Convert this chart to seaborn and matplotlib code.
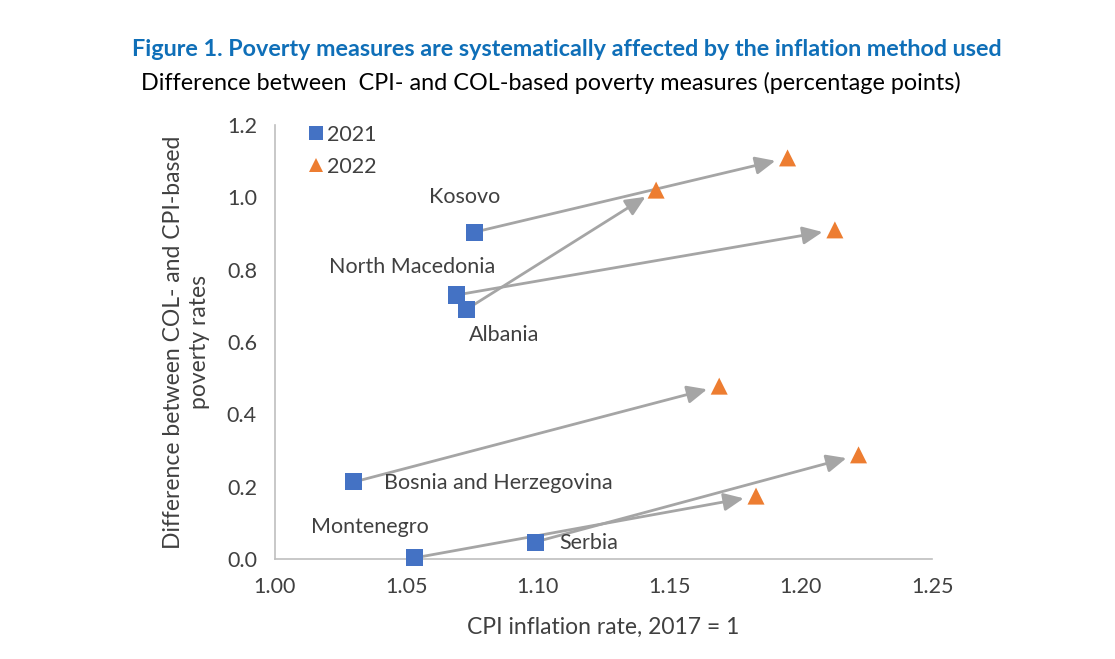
import matplotlib
matplotlib.use("Agg")
import matplotlib.pyplot as plt
import numpy as np
import pandas as pd
import seaborn as sns

# ---------------------------------------------------------------------------
# DATA
# ---------------------------------------------------------------------------
countries = ["Kosovo", "North Macedonia", "Albania",
             "Bosnia and Herzegovina", "Montenegro", "Serbia"]
cpi_2021 = [1.076, 1.069, 1.073, 1.030, 1.053, 1.099]
gap_2021 = [0.904, 0.730, 0.691, 0.213, 0.003, 0.047]
cpi_2022 = [1.195, 1.213, 1.145, 1.169, 1.183, 1.222]
gap_2022 = [1.109, 0.910, 1.020, 0.478, 0.174, 0.288]

years = ["2021", "2022"]

TITLE = "Figure 1. Poverty measures are systematically affected by the inflation method used"
SUBTITLE = "Difference between  CPI- and COL-based poverty measures (percentage points)"
XLABEL = "CPI inflation rate, 2017 = 1"
YLABEL = "Difference between COL- and CPI-based\npoverty rates"

# label placement (offsets in points from the 2021 marker)
LABEL_OFFSETS = {
    "Kosovo": (-7, 25, "center"),
    "North Macedonia": (-32, 20, "center"),
    "Albania": (27, -19, "center"),
    "Bosnia and Herzegovina": (22, -1, "left"),
    "Montenegro": (-32, 22, "center"),
    "Serbia": (17, -1, "left"),
}

BLUE = "#4472C4"
ORANGE = "#ED7D31"
GREY = "#A5A5A5"
TEXT = "#404040"
FS = 15.5

# ---------------------------------------------------------------------------
sns.set_theme(style="white")
plt.rcParams["font.family"] = ["Lato", "DejaVu Sans"]

df = pd.DataFrame({
    "country": countries * 2,
    "cpi": cpi_2021 + cpi_2022,
    "gap": gap_2021 + gap_2022,
    "year": [years[0]] * len(countries) + [years[1]] * len(countries),
})

fig = plt.figure(figsize=(11.15, 6.59), dpi=100)
ax = fig.add_axes([0.2466, 0.1517, 0.5894, 0.6586])

# arrows first so markers sit on top
for x0, y0, x1, y1 in zip(cpi_2021, gap_2021, cpi_2022, gap_2022):
    ax.annotate("", xy=(x1, y1), xytext=(x0, y0),
                arrowprops=dict(arrowstyle="-|>,head_length=1.0,head_width=0.45",
                                color=GREY, lw=2, shrinkA=0, shrinkB=9),
                zorder=1)

sns.scatterplot(data=df, x="cpi", y="gap", hue="year", style="year",
                palette={"2021": BLUE, "2022": ORANGE},
                markers={"2021": "s", "2022": "^"},
                s=150, linewidth=0, ax=ax, zorder=3, clip_on=False)

for name, x, y in zip(countries, cpi_2021, gap_2021):
    dx, dy, ha = LABEL_OFFSETS[name]
    ax.annotate(name, xy=(x, y), xytext=(dx, dy), textcoords="offset points",
                ha=ha, va="center", fontsize=FS, color=TEXT)

ax.set_xlim(1.0, 1.25)
ax.set_ylim(0.0, 1.2)
ax.set_xticks(np.arange(1.0, 1.2501, 0.05))
ax.set_yticks(np.arange(0.0, 1.2001, 0.2))
ax.xaxis.set_major_formatter(matplotlib.ticker.FormatStrFormatter("%.2f"))
ax.yaxis.set_major_formatter(matplotlib.ticker.FormatStrFormatter("%.1f"))
ax.tick_params(axis="both", labelsize=FS, length=6, width=1,
               color="#BFBFBF", labelcolor=TEXT, direction="out", pad=7)

for side in ["top", "right"]:
    ax.spines[side].set_visible(False)
for side in ["left", "bottom"]:
    ax.spines[side].set_color("#BFBFBF")
    ax.spines[side].set_linewidth(1.2)

ax.set_xlabel(XLABEL, fontsize=16.5, color=TEXT, labelpad=14)
ax.set_ylabel(YLABEL, fontsize=16.5, color=TEXT, labelpad=12, linespacing=1.3)

handles, labels = ax.get_legend_handles_labels()
leg = ax.legend(handles, labels, loc="upper left", bbox_to_anchor=(0.0, 1.045),
                frameon=False, fontsize=FS, handletextpad=-0.5,
                labelspacing=0.55, markerscale=0.8)
for t in leg.get_texts():
    t.set_color(TEXT)

fig.text(0.508, 0.925, TITLE, ha="center", va="center", fontsize=16.8,
         fontweight="bold", color="#0F6FB8")
fig.text(0.494, 0.874, SUBTITLE, ha="center", va="center", fontsize=16.8,
         color="black")

fig.savefig("out.png", dpi=100)
